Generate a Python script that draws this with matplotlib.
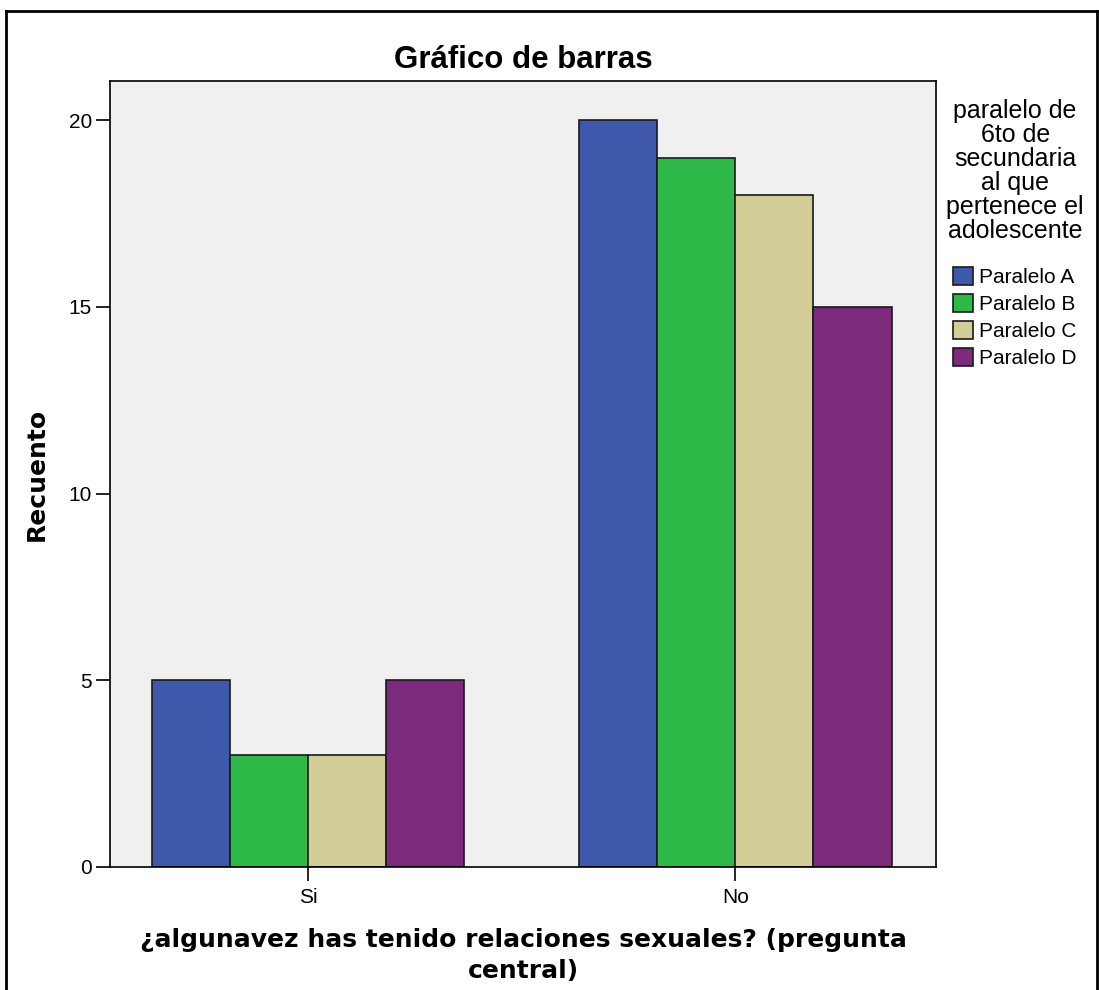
import numpy as np
import matplotlib.pyplot as plt
from matplotlib.lines import Line2D

plt.rcParams['font.family'] = ['Liberation Sans', 'DejaVu Sans']

categorias = ['Si', 'No']
series = ['Paralelo A', 'Paralelo B', 'Paralelo C', 'Paralelo D']
valores = [[5, 20], [3, 19], [3, 18], [5, 15]]
colores = ['#3e58ac', '#2eb848', '#d3ce97', '#7b2a7c']

fig = plt.figure(figsize=(10.99, 9.90), dpi=100)
ax = fig.add_axes([110 / 1099, 1 - 867 / 990, 826 / 1099, 786 / 990])
ax.set_facecolor('#f0f0f0')

x = np.arange(len(categorias))
w = 0.183
for i, (s, v) in enumerate(zip(series, valores)):
    ax.bar(x + (i - 1.5) * w, v, w, color=colores[i], edgecolor='#1a1a1a',
           linewidth=1.2, label=s)

ax.set_xlim(-0.464, 1.47)
ax.set_ylim(0, 21.05)
ax.set_xticks(x)
ax.set_xticklabels(categorias)
ax.set_yticks([0, 5, 10, 15, 20])
ax.tick_params(axis='both', labelsize=15, length=10, width=1.2)
ax.tick_params(axis='x', pad=5)
ax.tick_params(axis='y', pad=3)
for sp in ax.spines.values():
    sp.set_linewidth(1.2)

lab = dict(family='DejaVu Sans', fontsize=18, fontweight='bold')
ax.set_ylabel('Recuento', labelpad=14, **lab)
ax.set_xlabel('¿algunavez has tenido relaciones sexuales? (pregunta\ncentral)',
              labelpad=15, linespacing=1.4, **lab)
ax.set_title('Gráfico de barras', fontsize=22.5, fontweight='bold', pad=9)

leg = ax.legend(title='paralelo de\n6to de\nsecundaria\nal que\npertenece el\nadolescente',
                loc='upper left', bbox_to_anchor=(1.0, 0.99), frameon=False,
                fontsize=15, title_fontsize=18, handlelength=0.95,
                handleheight=0.95, handletextpad=0.3, labelspacing=0.33,
                borderaxespad=0.2, borderpad=0.3)
leg.get_title().set_multialignment('center')
leg.get_title().set_linespacing(1.0)
leg._legend_box.sep = 17

# marco de la imagen (recortada abajo)
ytop = 1 - 11 / 990
fig.add_artist(Line2D([6 / 1099, 6 / 1099], [0, ytop], color='black', lw=2))
fig.add_artist(Line2D([6 / 1099, 1097 / 1099], [ytop, ytop], color='black', lw=2))
fig.add_artist(Line2D([1097 / 1099, 1097 / 1099], [0, ytop], color='black', lw=2))

fig.savefig('out.png', dpi=100)
